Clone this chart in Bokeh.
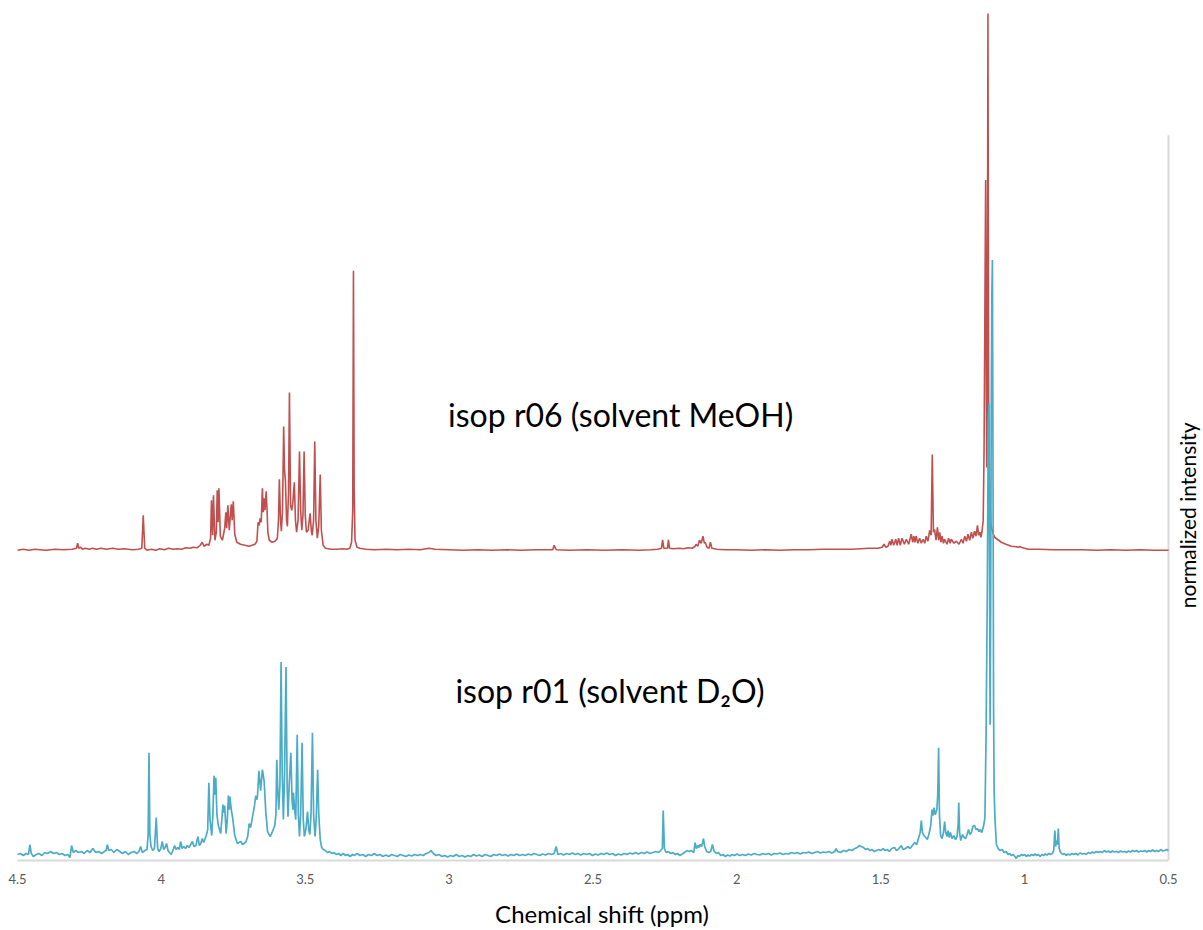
import math
from bokeh.plotting import figure
from bokeh.models import Range1d, FixedTicker
from bokeh.embed import file_html
from bokeh.resources import INLINE
from bokeh.core.properties import value

# ---------------- data (ppm, intensity above own baseline) ----------------
red_points = [
    (4.50, 0), (4.48, 1), (4.46, 0), (4.44, 1), (4.42, 0.5), (4.40, 0), (4.37, 1), (4.34, 0.5),
    (4.31, 1), (4.295, 2), (4.291, 7), (4.287, 2), (4.28, 3), (4.274, 1), (4.265, 2), (4.25, 1),
    (4.24, 2), (4.225, 1), (4.21, 2), (4.19, 1), (4.17, 2), (4.15, 1), (4.13, 1.5), (4.10, 0.5),
    (4.08, 1), (4.068, 2), (4.063, 35), (4.058, 2), (4.05, 0), (4.035, 1), (4.02, 0), (4.005, 1.5),
    (3.99, 0.5), (3.975, 2), (3.96, 1), (3.945, 1.5), (3.93, 1), (3.915, 2.5), (3.90, 2), (3.89, 3),
    (3.875, 2.5), (3.865, 5), (3.858, 8), (3.852, 4), (3.842, 6), (3.835, 5), (3.829, 12), (3.826, 50),
    (3.822, 15), (3.819, 55), (3.814, 10), (3.809, 18), (3.806, 60), (3.803, 28), (3.800, 62), (3.795, 14),
    (3.788, 10), (3.780, 22), (3.776, 38), (3.773, 22), (3.769, 45), (3.764, 20), (3.759, 40), (3.757, 46),
    (3.754, 30), (3.750, 49), (3.745, 16), (3.738, 8), (3.725, 6), (3.71, 5), (3.695, 4), (3.685, 5),
    (3.675, 6), (3.668, 9), (3.664, 28), (3.660, 25), (3.657, 32), (3.653, 28), (3.649, 62), (3.646, 38),
    (3.643, 52), (3.640, 40), (3.636, 59), (3.633, 42), (3.630, 18), (3.625, 10), (3.615, 8), (3.605, 9),
    (3.597, 12), (3.593, 30), (3.590, 71), (3.586, 30), (3.583, 19), (3.579, 40), (3.575, 124), (3.572, 80),
    (3.569, 70), (3.565, 30), (3.562, 24), (3.558, 60), (3.555, 158), (3.551, 45), (3.547, 40), (3.543, 48),
    (3.538, 68), (3.534, 30), (3.530, 18), (3.525, 30), (3.520, 99), (3.516, 40), (3.512, 20), (3.508, 35),
    (3.504, 99), (3.500, 35), (3.496, 18), (3.490, 20), (3.486, 30), (3.483, 37), (3.479, 20), (3.476, 15),
    (3.471, 30), (3.467, 109), (3.463, 30), (3.458, 12), (3.453, 25), (3.448, 76), (3.444, 20), (3.438, 5),
    (3.43, 2), (3.41, 1), (3.39, 1), (3.37, 1.5), (3.355, 1), (3.345, 2), (3.339, 8), (3.335, 40),
    (3.3325, 280), (3.330, 60), (3.327, 10), (3.32, 3), (3.31, 2), (3.29, 1), (3.26, 0.5), (3.22, 1),
    (3.18, 0.5), (3.14, 1), (3.10, 0.5), (3.07, 2), (3.05, 1), (3.00, 0.5), (2.95, 0), (2.90, 0.5),
    (2.85, 0), (2.80, 0.5), (2.75, 0), (2.70, 0.5), (2.64, 0.5), (2.635, 5), (2.628, 0.5), (2.58, 0),
    (2.52, 0.5), (2.46, 0), (2.40, 0.5), (2.34, 0), (2.30, 0.5), (2.275, 1), (2.262, 2), (2.258, 10.5),
    (2.254, 2), (2.245, 2), (2.241, 2), (2.238, 10.5), (2.234, 2), (2.22, 1.5), (2.20, 2), (2.185, 1.5),
    (2.17, 2.5), (2.155, 2), (2.145, 4), (2.142, 6), (2.136, 4), (2.130, 10), (2.124, 7), (2.118, 14),
    (2.113, 7), (2.110, 8), (2.104, 3), (2.097, 2), (2.092, 8), (2.087, 2), (2.07, 1), (2.04, 0.5),
    (2.00, 0.5), (1.95, 0), (1.90, 0.5), (1.85, 0), (1.80, 0.5), (1.75, 0.5), (1.70, 1), (1.65, 1),
    (1.60, 1), (1.57, 1.5), (1.54, 2), (1.51, 2), (1.495, 3), (1.489, 6), (1.482, 3), (1.475, 4),
    (1.469, 9), (1.465, 5), (1.461, 11), (1.455, 5), (1.448, 11), (1.443, 5), (1.438, 12), (1.432, 5),
    (1.426, 12), (1.418, 6), (1.411, 11), (1.403, 6), (1.394, 16), (1.389, 8), (1.385, 14), (1.381, 8),
    (1.377, 14), (1.371, 7), (1.365, 12), (1.359, 7), (1.353, 11), (1.347, 7), (1.342, 14), (1.336, 9),
    (1.330, 20), (1.325, 15), (1.321, 96), (1.317, 18), (1.313, 21), (1.308, 10), (1.303, 23), (1.299, 10),
    (1.295, 18), (1.291, 8), (1.287, 14), (1.282, 7), (1.278, 11), (1.270, 6), (1.264, 12), (1.259, 7),
    (1.255, 11), (1.246, 7), (1.237, 9), (1.228, 6), (1.220, 11), (1.214, 7), (1.208, 14), (1.202, 9),
    (1.197, 16), (1.191, 10), (1.185, 18), (1.180, 12), (1.174, 19), (1.169, 14), (1.164, 25), (1.160, 15),
    (1.156, 18), (1.152, 13), (1.148, 19), (1.144, 30), (1.141, 100), (1.1355, 371), (1.133, 150),
    (1.1315, 83), (1.130, 150), (1.1275, 538), (1.125, 150), (1.122, 60), (1.117, 25), (1.110, 17),
    (1.104, 13), (1.095, 11), (1.081, 8), (1.065, 6), (1.046, 4), (1.030, 3.5), (1.020, 3), (1.017, 4),
    (1.013, 3), (1.00, 2), (0.988, 1), (0.95, 1), (0.90, 0.5), (0.85, 0.5), (0.80, 0.5), (0.75, 0),
    (0.70, 0.5), (0.65, 0), (0.60, 0.5), (0.55, 0), (0.50, 0),
]

blue_points = [
    (4.50, 0), (4.49, 1), (4.48, -1), (4.47, 1), (4.462, 0), (4.457, 10), (4.452, 1), (4.445, -2),
    (4.435, 0), (4.425, 1), (4.415, -1), (4.405, 2), (4.395, 1), (4.385, 3), (4.375, 1), (4.365, 2),
    (4.355, 0), (4.345, 1), (4.335, -1), (4.325, 0), (4.318, -3), (4.312, 9), (4.306, 2), (4.298, 4),
    (4.288, 2), (4.278, 3), (4.268, 1), (4.258, 4), (4.248, 2), (4.238, 6), (4.228, 2), (4.218, 3),
    (4.208, 1), (4.198, 3), (4.192, 4), (4.188, 10), (4.183, 4), (4.175, 5), (4.165, 2), (4.155, 5),
    (4.145, 3), (4.135, 1), (4.125, 3), (4.115, 0), (4.105, 2), (4.095, 3), (4.085, 1), (4.078, 3),
    (4.072, 8), (4.066, 2), (4.058, 4), (4.050, 5), (4.046, 20), (4.043, 102), (4.040, 20), (4.036, 8),
    (4.030, 4), (4.024, 6), (4.018, 37), (4.013, 6), (4.008, 3), (4.002, 6), (3.997, 13), (3.992, 5),
    (3.987, 7), (3.982, 11), (3.977, 4), (3.972, 2), (3.966, 0), (3.960, 4), (3.954, 9), (3.949, 5),
    (3.943, 7), (3.938, 5), (3.933, 13), (3.928, 6), (3.922, 8), (3.916, 6), (3.910, 9), (3.904, 7),
    (3.898, 10), (3.892, 13), (3.887, 8), (3.880, 9), (3.873, 18), (3.868, 9), (3.863, 11), (3.858, 16),
    (3.853, 12), (3.848, 16), (3.843, 20), (3.839, 25), (3.835, 72), (3.831, 35), (3.825, 19), (3.821, 40),
    (3.817, 79), (3.814, 60), (3.811, 77), (3.807, 40), (3.802, 29), (3.794, 21), (3.790, 35), (3.786, 50),
    (3.783, 42), (3.780, 49), (3.775, 21), (3.771, 35), (3.767, 59), (3.764, 45), (3.762, 58), (3.757, 45),
    (3.752, 36), (3.745, 19), (3.736, 11), (3.730, 12), (3.724, 13), (3.718, 10), (3.713, 11), (3.706, 13),
    (3.700, 18), (3.695, 31), (3.690, 27), (3.680, 43), (3.676, 50), (3.672, 59), (3.668, 55), (3.666, 59),
    (3.661, 84), (3.655, 64), (3.649, 85), (3.643, 74), (3.637, 42), (3.631, 23), (3.622, 18), (3.614, 23),
    (3.606, 29), (3.602, 40), (3.599, 95), (3.595, 60), (3.592, 45), (3.588, 70), (3.584, 193), (3.580, 80),
    (3.576, 35), (3.572, 80), (3.567, 188), (3.563, 70), (3.560, 38), (3.556, 69), (3.550, 102), (3.546, 55),
    (3.543, 45), (3.541, 62), (3.537, 45), (3.533, 35), (3.528, 120), (3.524, 40), (3.520, 18), (3.516, 40),
    (3.511, 112), (3.507, 35), (3.503, 18), (3.498, 25), (3.492, 43), (3.488, 25), (3.484, 20), (3.480, 40),
    (3.475, 122), (3.471, 40), (3.466, 18), (3.462, 35), (3.457, 85), (3.453, 40), (3.448, 15), (3.443, 7),
    (3.437, 5), (3.430, 4), (3.422, 2), (3.415, 3), (3.408, 1), (3.400, 2), (3.392, 0), (3.384, 1),
    (3.376, -1), (3.368, 1), (3.360, -1), (3.352, 0), (3.344, -2), (3.336, 0), (3.33, -1), (3.32, 1),
    (3.31, -1), (3.30, 0), (3.29, -2), (3.28, 0), (3.27, -1), (3.26, 1), (3.25, -1), (3.24, 0),
    (3.23, -2), (3.22, -0.5), (3.21, -2), (3.20, 0), (3.19, -1), (3.18, -2), (3.17, 0), (3.16, -1),
    (3.15, -2), (3.14, -0.5), (3.13, -1.5), (3.12, 0), (3.11, -1), (3.10, 0), (3.09, -1), (3.08, 1),
    (3.07, 2), (3.063, 4), (3.055, 1), (3.045, -1), (3.035, 0), (3.025, -2), (3.015, -1), (3.005, -2.5),
    (2.995, -1), (2.985, -2), (2.975, 0), (2.965, -2), (2.955, -1), (2.945, -2.5), (2.935, -1), (2.925, -2),
    (2.915, 0), (2.905, -1.5), (2.895, -0.5), (2.885, -2), (2.875, 0), (2.865, -1), (2.855, -2), (2.845, 0),
    (2.835, -1), (2.825, 0.5), (2.815, -1), (2.805, 0), (2.795, -1.5), (2.785, 0), (2.775, -1), (2.765, 0.5),
    (2.755, -1), (2.745, 0), (2.735, -1), (2.725, 0.5), (2.715, -0.5), (2.705, 1), (2.695, 0), (2.685, -1),
    (2.675, 0.5), (2.665, -0.5), (2.655, 1), (2.645, 0), (2.635, 1), (2.628, 8), (2.622, 0), (2.612, 1),
    (2.602, -0.5), (2.592, 1), (2.582, 0), (2.572, 1.5), (2.562, 0), (2.552, 1), (2.542, -0.5), (2.532, 1),
    (2.522, 0), (2.512, 1), (2.502, -1), (2.492, 0.5), (2.482, -0.5), (2.472, 1), (2.462, 0), (2.452, 1.5),
    (2.442, 0), (2.432, 1), (2.422, -1), (2.412, 0.5), (2.402, -0.5), (2.392, 1), (2.382, 0), (2.372, 1.5),
    (2.362, 0.5), (2.352, 2), (2.342, 0.5), (2.332, 2), (2.322, 1), (2.312, 2.5), (2.302, 1), (2.292, 2),
    (2.282, 3), (2.272, 2), (2.265, 4), (2.259, 6), (2.256, 44), (2.252, 6), (2.246, 2), (2.238, 3),
    (2.230, 1), (2.222, 2), (2.214, 0), (2.206, 1), (2.198, -1), (2.190, 0.5), (2.182, 2), (2.174, 4),
    (2.166, 3), (2.158, 4), (2.150, 2), (2.145, 12), (2.141, 6), (2.136, 9), (2.132, 7), (2.128, 10),
    (2.123, 8), (2.119, 12), (2.116, 16), (2.112, 8), (2.105, 3), (2.098, 2), (2.091, 3), (2.085, 10),
    (2.080, 4), (2.072, 1), (2.064, 2), (2.056, -1), (2.048, 0), (2.040, -2), (2.032, -0.5), (2.024, -1.5),
    (2.016, 0), (2.008, -1), (2.000, 0.5), (1.990, -1), (1.980, 0), (1.970, -1), (1.960, 0.5), (1.950, -0.5),
    (1.940, 1), (1.930, 0), (1.920, -0.5), (1.910, 1), (1.900, 0), (1.890, 1), (1.880, -0.5), (1.870, 1),
    (1.860, 0.5), (1.850, 1.5), (1.840, 0), (1.830, 1), (1.820, 0.5), (1.810, 2), (1.800, 1), (1.790, 2),
    (1.780, 0.5), (1.770, 2), (1.760, 1.5), (1.750, 2.5), (1.740, 1), (1.730, 2), (1.720, 3), (1.710, 1.5),
    (1.700, 2.5), (1.690, 2), (1.680, 3), (1.670, 1.5), (1.660, 3), (1.655, 6), (1.650, 3), (1.640, 2),
    (1.630, 4), (1.620, 3), (1.610, 5), (1.600, 4), (1.590, 6), (1.582, 7), (1.575, 9), (1.568, 8),
    (1.560, 7), (1.552, 5), (1.545, 6), (1.537, 4), (1.530, 5), (1.522, 3), (1.515, 4), (1.507, 5),
    (1.500, 4), (1.492, 6), (1.485, 4), (1.477, 5), (1.470, 3), (1.462, 6), (1.452, 7), (1.445, 4),
    (1.437, 6), (1.429, 9), (1.422, 5), (1.414, 6), (1.405, 8), (1.398, 6), (1.390, 9), (1.382, 12),
    (1.375, 10), (1.368, 17), (1.363, 22), (1.359, 34), (1.355, 22), (1.350, 19), (1.344, 17), (1.338, 15),
    (1.333, 20), (1.329, 25), (1.326, 30), (1.322, 45), (1.319, 39), (1.315, 47), (1.311, 40), (1.305, 45),
    (1.302, 60), (1.299, 107), (1.296, 40), (1.292, 19), (1.287, 16), (1.282, 22), (1.278, 33), (1.274, 22),
    (1.270, 18), (1.266, 24), (1.262, 17), (1.258, 22), (1.252, 16), (1.246, 19), (1.240, 15), (1.235, 18),
    (1.231, 30), (1.229, 52), (1.226, 22), (1.222, 14), (1.216, 20), (1.210, 17), (1.205, 16), (1.200, 20),
    (1.195, 25), (1.190, 20), (1.185, 22), (1.180, 28), (1.174, 29), (1.169, 25), (1.164, 26), (1.159, 23),
    (1.154, 25), (1.149, 22), (1.143, 28), (1.138, 37), (1.134, 120), (1.130, 250), (1.127, 400),
    (1.124, 452), (1.1215, 250), (1.120, 130), (1.118, 250), (1.116, 450), (1.114, 560), (1.112, 596),
    (1.110, 400), (1.108, 150), (1.106, 63), (1.103, 35), (1.098, 10), (1.092, 6), (1.085, 4), (1.078, 5),
    (1.071, 2), (1.064, 3), (1.058, 0), (1.052, 1), (1.046, -1), (1.040, 0), (1.034, -2), (1.029, -4),
    (1.024, -1), (1.018, -2), (1.012, 0), (1.006, -1), (1.000, 0), (0.994, -2), (0.988, -0.5), (0.982, -1.5),
    (0.976, 0), (0.970, -1), (0.964, 0.5), (0.958, -1), (0.952, 0), (0.946, -2), (0.940, 0), (0.934, -1),
    (0.928, 0.5), (0.922, -0.5), (0.916, 1), (0.910, 0), (0.904, 1), (0.899, 4), (0.895, 24), (0.892, 8),
    (0.889, 14), (0.886, 10), (0.883, 26), (0.880, 6), (0.875, 2), (0.868, 0), (0.862, 1), (0.856, -1),
    (0.850, 0.5), (0.843, -0.5), (0.836, 1), (0.829, 0), (0.822, 1), (0.815, -0.5), (0.808, 1.5), (0.800, 0.5),
    (0.793, 1), (0.786, 0), (0.779, 2), (0.772, 1), (0.765, 2.5), (0.758, 1.5), (0.751, 3), (0.744, 2),
    (0.737, 3), (0.730, 2), (0.723, 4), (0.716, 2.5), (0.709, 3.5), (0.702, 2), (0.695, 3.5), (0.688, 2.5),
    (0.681, 3), (0.674, 2), (0.667, 3.5), (0.660, 2.5), (0.653, 3), (0.646, 2), (0.639, 3.5), (0.632, 2.5),
    (0.625, 4), (0.618, 3), (0.611, 4), (0.604, 2.5), (0.597, 3.5), (0.590, 3), (0.583, 4), (0.576, 2.5),
    (0.569, 4), (0.562, 3), (0.555, 4.5), (0.548, 3), (0.541, 4), (0.534, 3), (0.527, 5), (0.520, 3.5),
    (0.513, 4), (0.506, 5), (0.500, 4),
]

red_offset = 305          # vertical stacking offset of the MeOH spectrum
tick_ppm = [4.5, 4.0, 3.5, 3.0, 2.5, 2.0, 1.5, 1.0, 0.5]
tick_text = ["4.5", "4", "3.5", "3", "2.5", "2", "1.5", "1", "0.5"]
red_label = "isop r06 (solvent MeOH)"
blue_label = "isop r01 (solvent D\u2082O)"
x_title = "Chemical shift (ppm)"
y_title = "normalized intensity"

red_ppm = [p_[0] for p_ in red_points]
red_int = [p_[1] + red_offset for p_ in red_points]
blue_ppm = [p_[0] for p_ in blue_points]
blue_int = [p_[1] for p_ in blue_points]

FONT = "Lato"

p = figure(width=1203, height=930, output_backend="svg", toolbar_location=None,
           x_range=Range1d(4.5591, 0.3784), y_range=Range1d(-6, 856),
           y_axis_location=None,
           min_border_left=0, min_border_right=0, min_border_top=0, min_border_bottom=68)
p.outline_line_color = None
p.grid.visible = False
p.background_fill_color = "white"
p.border_fill_color = "white"

ax = p.xaxis[0]
ax.ticker = FixedTicker(ticks=tick_ppm)
ax.major_label_overrides = {t: s for t, s in zip(tick_ppm, tick_text)}
ax.bounds = (0.5, 4.5)
ax.axis_line_color = "#d9d9d9"
ax.axis_line_width = 2
ax.major_tick_line_color = None
ax.minor_tick_line_color = None
ax.major_tick_in = 0
ax.major_tick_out = 0
ax.major_label_standoff = 13
ax.major_label_text_font = FONT
ax.major_label_text_font_size = "13px"
ax.major_label_text_color = "#595959"
ax.axis_label = x_title
ax.axis_label_text_font = FONT
ax.axis_label_text_font_style = "normal"
ax.axis_label_text_font_size = "24px"
ax.axis_label_text_color = "#000000"
ax.axis_label_standoff = 12

# right-hand vertical axis line
p.segment(x0=[0.5], y0=[-6], x1=[0.5], y1=[721], line_color="#d9d9d9", line_width=2)

p.line(red_ppm, red_int, line_color="#C0504D", line_width=1.6)
p.line(blue_ppm, blue_int, line_color="#4BACC6", line_width=1.7)

p.text(x=[2.404], y=[441], text=[red_label], text_font=value(FONT), text_font_size="32px",
       text_align="center", text_baseline="middle", text_color="#000000")
p.text(x=[2.441], y=[164], text=[blue_label], text_font=value(FONT), text_font_size="32px",
       text_align="center", text_baseline="middle", text_color="#000000")
p.text(x=[0.4339], y=[340], text=[y_title], text_font=value(FONT), text_font_size="21px",
       text_align="center", text_baseline="middle", text_color="#000000", angle=math.pi / 2)

open("out.html", "w").write(file_html(p, INLINE))
